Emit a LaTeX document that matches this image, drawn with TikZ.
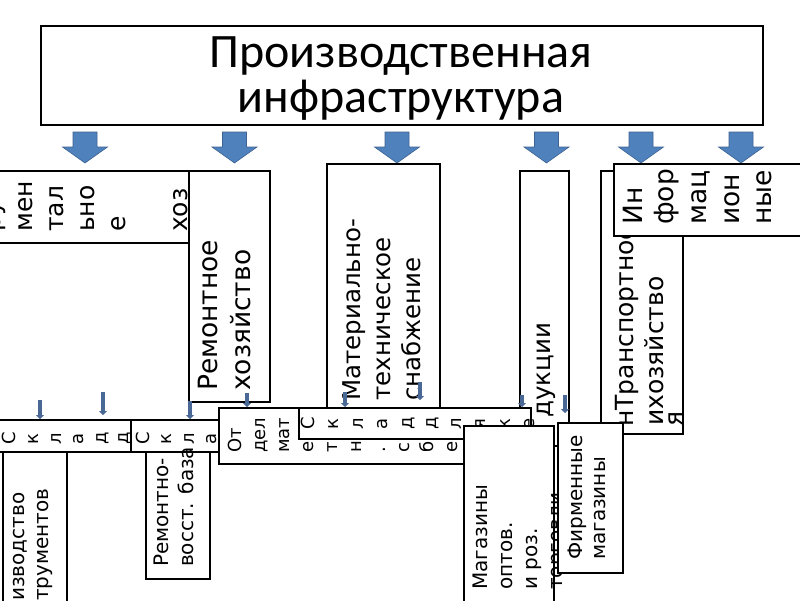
\documentclass[tikz,border=0pt]{standalone}
\usepackage{fontspec}
\newfontfamily\boxfont{DejaVu Sans}
\newfontfamily\headfont{Carlito}
\usetikzlibrary{arrows.meta}
\definecolor{arrowblue}{RGB}{79,129,189}
\definecolor{arrowedge}{RGB}{60,98,145}
\definecolor{stubblue}{RGB}{74,104,150}
\tikzset{
  box/.style={draw, line width=2pt, fill=white, inner sep=0pt, anchor=north west},
  vtext/.style={rotate=90, anchor=base west, inner sep=0pt},
  headtxt/.style={inner sep=0pt, anchor=base, font=\headfont\fontsize{48}{56}\selectfont},
  f26/.style={font=\boxfont\fontsize{26.5}{31}\selectfont},
  f25/.style={font=\boxfont\fontsize{25}{30}\selectfont},
  f24/.style={font=\boxfont\fontsize{24.5}{29}\selectfont},
  f20/.style={font=\boxfont\fontsize{20}{24}\selectfont},
  f18/.style={font=\boxfont\fontsize{18}{22}\selectfont},
  bigarrow/.style={fill=arrowblue, draw=arrowedge, line width=0.6pt},
  stub/.style={draw=stubblue, line width=4pt, -{Triangle[length=4pt,width=8pt]}}
}
\begin{document}
\begin{tikzpicture}[x=1pt, y=-1pt]
    \useasboundingbox (0,0) rectangle (800,600);
    \fill[white] (0,0) rectangle (800,600);
    
    \node[box, minimum width=722pt, minimum height=99pt] (head) at (40,25) {};
    \node[headtxt] (head1) at (401,67) {Производственная};
    \node[headtxt] (head2) at (401,112) {инфраструктура};
    
    % arrows under the title
    \draw[bigarrow] (73,132) -- ++(24,0) -- ++(0,15) -- ++(10.5,0) -- ++(-22.5,16) -- ++(-22.5,-16) -- ++(10.5,0) -- cycle;
    \draw[bigarrow] (222.5,132) -- ++(24,0) -- ++(0,15) -- ++(10.5,0) -- ++(-22.5,16) -- ++(-22.5,-16) -- ++(10.5,0) -- cycle;
    \draw[bigarrow] (385,132) -- ++(24,0) -- ++(0,15) -- ++(10.5,0) -- ++(-22.5,16) -- ++(-22.5,-16) -- ++(10.5,0) -- cycle;
    \draw[bigarrow] (534.5,132) -- ++(24,0) -- ++(0,15) -- ++(10.5,0) -- ++(-22.5,16) -- ++(-22.5,-16) -- ++(10.5,0) -- cycle;
    \draw[bigarrow] (629,132) -- ++(24,0) -- ++(0,15) -- ++(10.5,0) -- ++(-22.5,16) -- ++(-22.5,-16) -- ++(10.5,0) -- cycle;
    \draw[bigarrow] (729,132) -- ++(24,0) -- ++(0,15) -- ++(10.5,0) -- ++(-22.5,16) -- ++(-22.5,-16) -- ++(10.5,0) -- cycle;
    
    % upper boxes
    \node[box, minimum width=193pt, minimum height=72pt] (instr) at (-5,170) {};
    \node[vtext, f25] (instr1) at (0.5,232) {ру};
    \node[vtext, f25] (instr2) at (32,232) {мен};
    \node[vtext, f25] (instr3) at (63,232) {тал};
    \node[vtext, f25] (instr4) at (94,232) {ьно};
    \node[vtext, f25] (instr5) at (125,232) {е};
    \node[vtext, f25] (instr6) at (187,232) {хоз};
    
    \node[box, minimum width=81pt, minimum height=231pt] (remont) at (188,170) {};
    \node[vtext, f26] (remont1) at (217,391) {Ремонтное};
    \node[vtext, f26] (remont2) at (250,391) {хозяйство};
    
    \node[box, minimum width=113pt, minimum height=290pt] (snab) at (326,162.7) {};
    \node[vtext, f24] (snab1) at (360,401) {Материально-};
    \node[vtext, f24] (snab2) at (390,401) {техническое};
    \node[vtext, f24] (snab3) at (420,401) {снабжение};
    
    \node[box, minimum width=49pt, minimum height=275pt] (sbyt) at (519,170) {};
    \node[vtext, f24] (sbyt1) at (550,418) {дукции};
    
    \node[box, minimum width=82pt, minimum height=263pt] (transp) at (600,170) {};
    \node[vtext, f25] (transp1) at (633,427) {нТранспортное};
    \node[vtext, f25] (transp2) at (663,426) {ихозяйство};
    \node[vtext, f25] (transp3) at (682,427) {я};
    
    \node[box, minimum width=200pt, minimum height=72.3pt] (inform) at (613,162.7) {};
    \node[vtext, f26] (inform1) at (642,225) {Ин};
    \node[vtext, f26] (inform2) at (673,225) {фор};
    \node[vtext, f26] (inform3) at (706,225) {мац};
    \node[vtext, f26] (inform4) at (739,225) {ион};
    \node[vtext, f26] (inform5) at (771,225) {ные};
    
    % small arrows
    \coordinate (st1) at (40,400);  \coordinate (en1) at (40,419);
    \coordinate (st2) at (103,392); \coordinate (en2) at (103,415);
    \coordinate (st3) at (190,401); \coordinate (en3) at (190,419);
    \coordinate (st4) at (247,393); \coordinate (en4) at (247,407);
    \coordinate (st5) at (345,392); \coordinate (en5) at (345,407);
    \coordinate (st6) at (420,382); \coordinate (en6) at (420,400);
    \coordinate (st7) at (522,395); \coordinate (en7) at (522,407);
    \coordinate (st8) at (565,395); \coordinate (en8) at (565,413);
    \draw[stub] (st1) -- (en1);
    \draw[stub] (st2) -- (en2);
    \draw[stub] (st3) -- (en3);
    \draw[stub] (st4) -- (en4);
    \draw[stub] (st5) -- (en5);
    \draw[stub] (st6) -- (en6);
    \draw[stub] (st7) -- (en7);
    \draw[stub] (st8) -- (en8);
    
    % lower row
    \node[box, minimum width=135pt, minimum height=32pt] (sklad1) at (-5,419) {};
    \node[vtext, f18] (sklad1a) at (16,445) {С};
    \node[vtext, f18] (sklad1b) at (38.5,445) {к};
    \node[vtext, f18] (sklad1c) at (61,445) {л};
    \node[vtext, f18] (sklad1d) at (83.5,445) {а};
    \node[vtext, f18] (sklad1e) at (106,445) {д};
    \node[vtext, f18] (sklad1f) at (128.5,445) {д};
    
    \node[box, minimum width=88pt, minimum height=32pt] (sklad2) at (130,419) {};
    \node[vtext, f18] (sklad2a) at (149,445) {С};
    \node[vtext, f18] (sklad2b) at (171.5,445) {к};
    \node[vtext, f18] (sklad2c) at (194,445) {л};
    \node[vtext, f18] (sklad2d) at (216.5,445) {а};
    
    \node[box, minimum width=64pt, minimum height=160pt] (proizv) at (2,451) {};
    \node[vtext, f20] (proizv1) at (24.5,601) {изводство};
    \node[vtext, f20] (proizv2) at (48,601) {трументов};
    
    \node[box, minimum width=64pt, minimum height=127pt] (remvost) at (145,451) {};
    \node[vtext, f20] (remvost1) at (168,567) {Ремонтно-};
    \node[vtext, f20] (remvost2) at (193,567) {восст. база};
    
    \node[box, minimum width=245pt, minimum height=56pt] (otdel) at (218,407) {};
    \node[vtext, f18] (otdel1) at (241,453) {От};
    \node[vtext, f18] (otdel2) at (265,453) {дел};
    \node[vtext, f18] (otdel3) at (289,453) {мат};
    \node[vtext, f18] (otdel4) at (313,453) {е};
    \node[vtext, f18] (otdel5) at (337,453) {т};
    \node[vtext, f18] (otdel6) at (361,453) {н};
    \node[vtext, f18] (otdel7) at (385,453) {.};
    \node[vtext, f18] (otdel8) at (409,453) {с};
    \node[vtext, f18] (otdel9) at (433,453) {б};
    \node[vtext, f18] (otdel10) at (457,453) {е};
    
    \node[box, minimum width=232pt, minimum height=31pt] (skladdl) at (298,407) {};
    \node[vtext, f18] (skladdl1) at (314,430) {С};
    \node[vtext, f18] (skladdl2) at (338.5,430) {к};
    \node[vtext, f18] (skladdl3) at (363,430) {л};
    \node[vtext, f18] (skladdl4) at (387.5,430) {а};
    \node[vtext, f18] (skladdl5) at (412,430) {д};
    \node[vtext, f18] (skladdl6) at (436.5,430) {д};
    \node[vtext, f18] (skladdl7) at (461,430) {л};
    \node[vtext, f18] (skladdl8) at (485.5,430) {я};
    \node[vtext, f18] (skladdl9) at (510,430) {к};
    \node[vtext, f18] (skladdl10) at (534.5,430) {е};
    
    \node[box, minimum width=90pt, minimum height=190pt] (magaz) at (463,425) {};
    \node[vtext, f20] (magaz1) at (487,590) {Магазины};
    \node[vtext, f20] (magaz2) at (512,590) {оптов.};
    \node[vtext, f20] (magaz3) at (537,590) {и роз.};
    \node[vtext, f20] (magaz4) at (562,590) {торговли};
    
    \node[box, minimum width=65pt, minimum height=150pt] (firm) at (557,422) {};
    \node[vtext, f20] (firm1) at (582,560) {Фирменные};
    \node[vtext, f20] (firm2) at (605,560) {магазины};
    
\end{tikzpicture}
\end{document}
